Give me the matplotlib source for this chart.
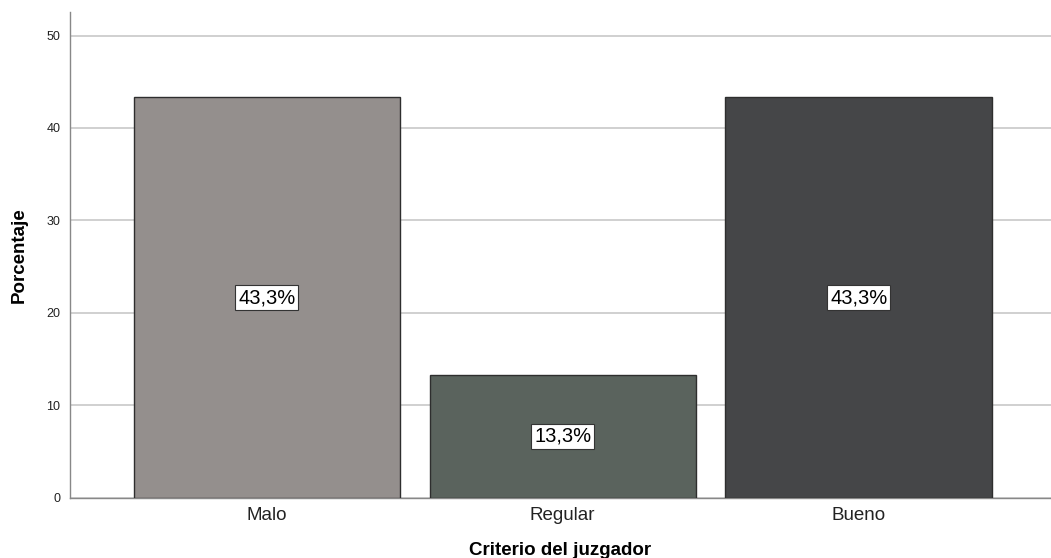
import matplotlib
matplotlib.use("Agg")
import matplotlib.pyplot as plt

# data
categories = ["Malo", "Regular", "Bueno"]
percentages = [43.3, 13.3, 43.3]
bar_colors = ["#948f8d", "#5a635d", "#454648"]
y_ticks = [0, 10, 20, 30, 40, 50]

plt.rcParams['font.family'] = ['Liberation Sans', 'DejaVu Sans']

fig = plt.figure(figsize=(10.51, 5.58), dpi=100)
ax = fig.add_axes([70 / 1051, 1 - 497.7 / 558, 1 - 70 / 1051, (497.7 - 12) / 558])

x = list(range(len(categories)))
ax.bar(x, percentages, width=0.9, color=bar_colors, edgecolor="#2e2e2e", linewidth=1.0, zorder=3)

# value labels in white boxes at the middle of each bar
for xi, val in zip(x, percentages):
    ax.text(xi, val / 2, f"{val:.1f}%".replace(".", ","), ha="center", va="center",
            fontsize=14.5, color="black", zorder=4,
            bbox=dict(boxstyle="square,pad=0.14", facecolor="white", edgecolor="#333333", linewidth=0.8))

ax.set_xlim(-0.665, 2.65)
ax.set_ylim(0, 52.55)
ax.set_yticks(y_ticks)
ax.set_xticks(x)
ax.set_xticklabels(categories, fontsize=13.5, color="#222222")
ax.tick_params(axis="y", labelsize=9, length=0, pad=7, labelcolor="#222222")
ax.tick_params(axis="x", length=0, pad=7)

ax.grid(axis="y", color="#c8c8c8", linewidth=1.2, zorder=0)
for side in ["top", "right"]:
    ax.spines[side].set_visible(False)
ax.spines["left"].set_color("#888888")
ax.spines["bottom"].set_color("#888888")
ax.spines["left"].set_linewidth(1.0)
ax.spines["bottom"].set_linewidth(1.0)

ax.set_ylabel("Porcentaje", fontsize=13.5, fontweight="bold", labelpad=13)
ax.set_xlabel("Criterio del juzgador", fontsize=13.5, fontweight="bold", labelpad=13)

fig.savefig("out.png", dpi=100)
